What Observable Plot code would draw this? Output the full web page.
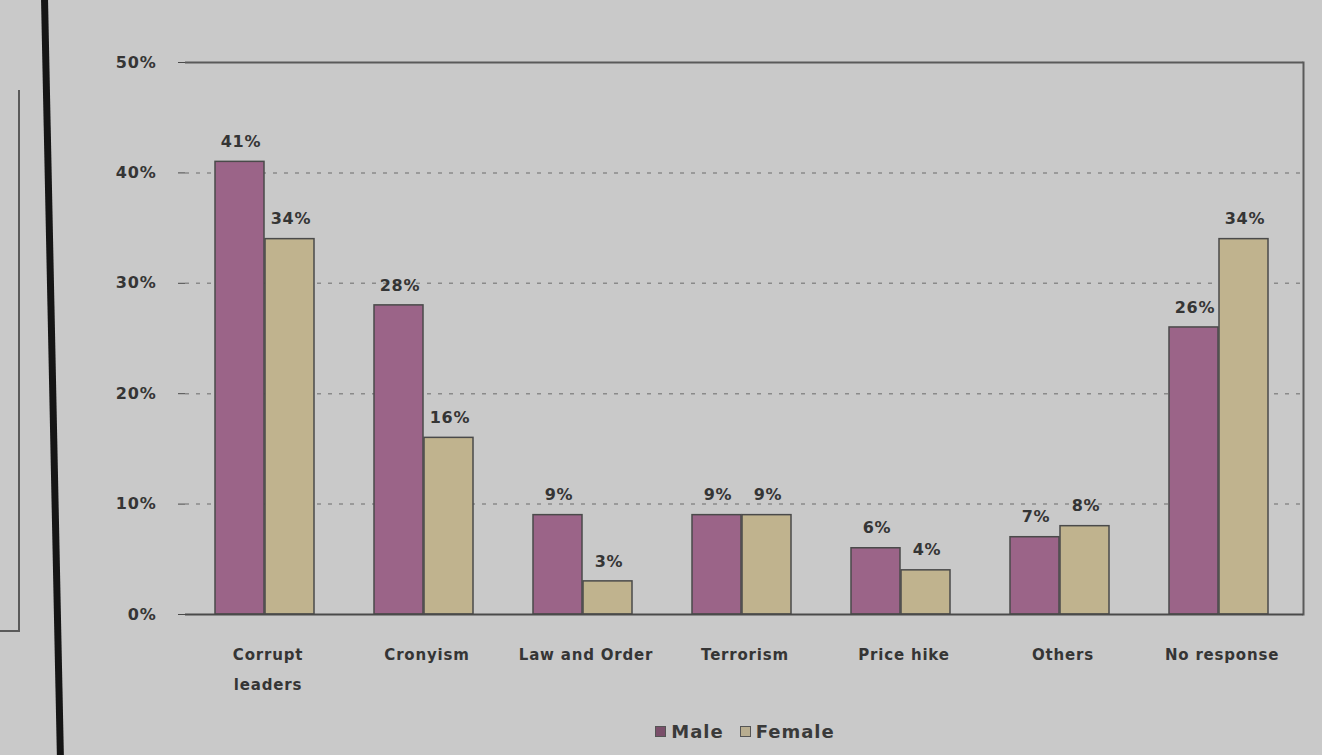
<!DOCTYPE html>
<html>
<head>
<meta charset="utf-8">
<script src="https://cdn.jsdelivr.net/npm/d3@7"></script>
<script src="https://cdn.jsdelivr.net/npm/@observablehq/plot@0.6"></script>
<style>
  html, body { margin: 0; padding: 0; background: #c9c9c9; }
  body { width: 1322px; height: 755px; position: relative; overflow: hidden; font-family: "DejaVu Sans", sans-serif; }
  #chart { position: absolute; left: 0; top: 0; }
  #chart svg text { letter-spacing: 0.8px; }
  #legend { position: absolute; left: 100px; top: 720px; width: 1290px; text-align: center; font-size: 18px; font-weight: bold; color: #3a3a3a; letter-spacing: 1px; }
  #legend span.item { display: inline-flex; align-items: center; margin: 0 8px; }
  #legend span.sw { display: inline-block; width: 9px; height: 9px; border: 1.5px solid #555; margin-right: 5px; }
  .deco-thick { position: absolute; left: 49px; top: -10px; width: 7px; height: 780px; background: #151515; transform: rotate(-1.2deg); }
  .deco-box { position: absolute; left: -10px; top: 90px; width: 28px; height: 540px; border-right: 2px solid #5a5a5a; border-bottom: 2px solid #5a5a5a; }
</style>
</head>
<body>
<div class="deco-box"></div>
<div class="deco-thick"></div>
<div id="chart"></div>
<div id="legend"></div>
<script>
const categories = ["Corrupt\nleaders", "Cronyism", "Law and Order", "Terrorism", "Price hike", "Others", "No response"];
const male = [41, 28, 9, 9, 6, 7, 26];
const female = [34, 16, 3, 9, 4, 8, 34];
const yTicks = [0, 10, 20, 30, 40, 50];
const series = ["Male", "Female"];
const colors = ["#9b6488", "#c0b38e"];

const maleRows = categories.map((c, i) => ({category: c, value: male[i], sex: "Male"}));
const femaleRows = categories.map((c, i) => ({category: c, value: female[i], sex: "Female"}));

const textStyle = {fontSize: 16, fontWeight: "bold", fill: "#353535", fontFamily: "DejaVu Sans, sans-serif"};

const plot = Plot.plot({
  width: 1322,
  height: 705,
  marginLeft: 185,
  marginRight: 19,
  marginTop: 62,
  marginBottom: 91,
  style: {background: "transparent", fontFamily: "DejaVu Sans, sans-serif"},
  x: {type: "band", domain: categories, padding: 0, label: null},
  y: {domain: [0, 50], label: null},
  marks: [
    Plot.ruleY([10, 20, 30, 40], {stroke: "#8a8a8a", strokeDasharray: "4,7", strokeWidth: 1.5}),
    Plot.ruleY([50], {stroke: "#5a5a5a", strokeWidth: 2}),
    Plot.frame({anchor: "right", stroke: "#5a5a5a", strokeWidth: 2}),
    Plot.barY(maleRows, {x: "category", y: "value", fill: colors[0], stroke: "#4a4a4a", strokeWidth: 1.5, insetLeft: 27, insetRight: 83}),
    Plot.barY(femaleRows, {x: "category", y: "value", fill: colors[1], stroke: "#4a4a4a", strokeWidth: 1.5, insetLeft: 77, insetRight: 33}),
    Plot.text(maleRows, {x: "category", y: "value", text: d => d.value + "%", dx: -27, dy: -20, ...textStyle}),
    Plot.text(femaleRows, {x: "category", y: "value", text: d => d.value + "%", dx: 23, dy: -20, ...textStyle}),
    Plot.axisY({ticks: yTicks, tickFormat: d => d + "%", tickSize: 7, tickPadding: 22, stroke: "#4a4a4a", fontSize: 16, fontWeight: "bold", fill: "#353535"}),
    Plot.ruleX([0], {frameAnchor: "left", stroke: "#4a4a4a", strokeWidth: 2}),
    Plot.axisX({tickSize: 0, tickPadding: 24, fontSize: 15, fontWeight: "bold", fill: "#353535", lineHeight: 2.0}),
    Plot.ruleY([0], {stroke: "#4a4a4a", strokeWidth: 2})
  ]
});
document.getElementById("chart").appendChild(plot);

const legend = document.getElementById("legend");
series.forEach((s, i) => {
  const item = document.createElement("span");
  item.className = "item";
  const sw = document.createElement("span");
  sw.className = "sw";
  sw.style.background = i === 0 ? "#7a4f6a" : "#b8ad90";
  item.appendChild(sw);
  item.appendChild(document.createTextNode(s));
  legend.appendChild(item);
});
</script>
</body>
</html>
